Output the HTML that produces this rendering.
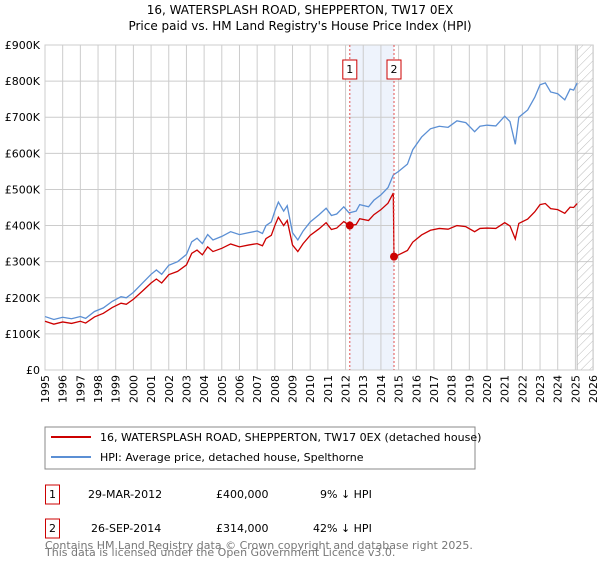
<!DOCTYPE html>
<html><head><meta charset="utf-8"><style>
body{margin:0;background:#fff;font-family:"DejaVu Sans","Liberation Sans",sans-serif;}
svg text{font-family:"DejaVu Sans","Liberation Sans",sans-serif;}
</style></head><body>
<svg id="c" width="600" height="560">
<defs><pattern id="hatch" width="6" height="6" patternUnits="userSpaceOnUse" patternTransform="rotate(45)"><line x1="0" y1="0" x2="0" y2="6" stroke="#bbb" stroke-width="1"/></pattern></defs>
<text x="300" y="14" text-anchor="middle" font-size="12">16, WATERSPLASH ROAD, SHEPPERTON, TW17 0EX</text>
<text x="300" y="30" text-anchor="middle" font-size="12">Price paid vs. HM Land Registry's House Price Index (HPI)</text>
<g id="grid"></g><g id="marks"></g><g id="axes"></g>
<rect x="45" y="427" width="430" height="42" fill="#fff" stroke="#888"/>
<line x1="51" y1="437" x2="91" y2="437" stroke="#cc0000" stroke-width="2"/>
<text x="100" y="441" font-size="11">16, WATERSPLASH ROAD, SHEPPERTON, TW17 0EX (detached house)</text>
<line x1="51" y1="457" x2="91" y2="457" stroke="#5b8fd4" stroke-width="2"/>
<text x="100" y="461" font-size="11">HPI: Average price, detached house, Spelthorne</text>
<rect x="45.5" y="485" width="14" height="19" fill="#fff" stroke="#cc0000"/>
<text x="52.5" y="498" font-size="11" text-anchor="middle">1</text>
<text x="88" y="498" font-size="11">29-MAR-2012</text>
<text x="216" y="498" font-size="11">£400,000</text>
<text x="320" y="498" font-size="11">9% ↓ HPI</text>
<rect x="45.5" y="519" width="14" height="19" fill="#fff" stroke="#cc0000"/>
<text x="52.5" y="532" font-size="11" text-anchor="middle">2</text>
<text x="91" y="532" font-size="11">26-SEP-2014</text>
<text x="216" y="532" font-size="11">£314,000</text>
<text x="313" y="532" font-size="11">42% ↓ HPI</text>
<text x="45" y="549" font-size="11" fill="#777">Contains HM Land Registry data © Crown copyright and database right 2025.</text>
<text x="45" y="560" font-size="11" fill="#777" transform="translate(0,-4)">This data is licensed under the Open Government Licence v3.0.</text>
</svg>
<script>
const yTicks=[0,100,200,300,400,500,600,700,800,900];
const years=[1995,1996,1997,1998,1999,2000,2001,2002,2003,2004,2005,2006,2007,2008,2009,2010,2011,2012,2013,2014,2015,2016,2017,2018,2019,2020,2021,2022,2023,2024,2025,2026];
const hpiDates=[1995.0,1995.5,1996.0,1996.5,1997.0,1997.3,1997.8,1998.3,1998.8,1999.3,1999.6,2000.0,2000.5,2001.0,2001.3,2001.6,2002.0,2002.5,2003.0,2003.3,2003.6,2003.9,2004.2,2004.5,2005.0,2005.5,2006.0,2006.5,2007.0,2007.3,2007.5,2007.8,2008.0,2008.2,2008.5,2008.7,2009.0,2009.3,2009.6,2010.0,2010.5,2010.9,2011.2,2011.5,2011.9,2012.2,2012.6,2012.8,2013.3,2013.6,2014.0,2014.4,2014.7,2015.0,2015.5,2015.8,2016.3,2016.8,2017.3,2017.8,2018.3,2018.8,2019.3,2019.6,2020.0,2020.5,2021.0,2021.3,2021.6,2021.8,2022.3,2022.7,2023.0,2023.3,2023.6,2024.0,2024.4,2024.7,2024.9,2025.1];
const hpiValues=[148,140,146,142,148,143,162,172,190,203,200,215,240,265,277,265,290,300,320,355,365,350,375,360,370,383,375,380,385,378,400,410,440,465,440,455,380,360,385,410,430,448,428,432,452,435,440,458,452,470,485,505,540,550,570,610,645,668,675,672,690,685,660,675,678,676,703,688,625,700,720,755,790,795,770,765,748,778,775,795];
const redDates=[1995.0,1995.5,1996.0,1996.5,1997.0,1997.3,1997.8,1998.3,1998.8,1999.3,1999.6,2000.0,2000.5,2001.0,2001.3,2001.6,2002.0,2002.5,2003.0,2003.3,2003.6,2003.9,2004.2,2004.5,2005.0,2005.5,2006.0,2006.5,2007.0,2007.3,2007.5,2007.8,2008.0,2008.2,2008.5,2008.7,2009.0,2009.3,2009.6,2010.0,2010.5,2010.9,2011.2,2011.5,2011.9,2012.24,2012.6,2012.8,2013.3,2013.6,2014.0,2014.4,2014.7,2014.74,2015.0,2015.5,2015.8,2016.3,2016.8,2017.3,2017.8,2018.3,2018.8,2019.3,2019.6,2020.0,2020.5,2021.0,2021.3,2021.6,2021.8,2022.3,2022.7,2023.0,2023.3,2023.6,2024.0,2024.4,2024.7,2024.9,2025.1];
const redValues=[135,127,133,129,135,130,147,157,173,185,182,196,218,241,252,241,264,273,291,323,332,319,341,328,337,349,341,346,350,344,364,373,400,423,400,414,346,328,350,373,391,408,389,393,411,400,403,419,414,430,444,462,490,314,319,331,354,374,387,392,390,400,397,383,392,393,392,408,399,363,406,418,438,458,461,447,444,434,451,450,461];
const saleDates=[2012.24,2014.74];
const saleValues=[400,314];
const saleLabels=["1","2"];
const NS="http://www.w3.org/2000/svg";
const X0=45,PX=17.68,Y0=370,YT=45;
const xs=y=>X0+(y-1995)*PX;
const ys=v=>Y0-(v/900)*(Y0-YT);
const right=xs(2026);
function mk(t,a,p){const e=document.createElementNS(NS,t);for(const k in a)e.setAttribute(k,a[k]);p.appendChild(e);return e;}
const g=document.getElementById('grid'),m=document.getElementById('marks'),ax=document.getElementById('axes');
const sh=mk('rect',{x:xs(saleDates[0]),y:YT,width:xs(saleDates[1])-xs(saleDates[0]),height:Y0-YT,fill:'#eef3fc'},g);


years.forEach(yr=>{const l=mk('line',{x1:xs(yr),x2:xs(yr),y1:YT,y2:Y0,stroke:'#ccc'},g);


const t=mk('text',{x:0,y:0,'font-size':11,'text-anchor':'end',transform:`translate(${xs(yr)+4},${Y0+5}) rotate(-90)`},ax);t.textContent=yr;

});
yTicks.forEach(v=>{const l=mk('line',{x1:X0,x2:right,y1:ys(v),y2:ys(v),stroke:'#ccc'},g);


const t=mk('text',{x:X0-5,y:ys(v)+4,'font-size':11,'text-anchor':'end'},ax);t.textContent=v===0?'£0':'£'+v+'K';

});
const hz=mk('rect',{x:xs(2025.1),y:YT,width:right-xs(2025.1),height:Y0-YT,fill:'url(#hatch)',stroke:'#bbb'},g);


const border=mk('rect',{x:X0,y:YT,width:right-X0,height:Y0-YT,fill:'none',stroke:'#ccc'},g);


const hp=mk('polyline',{points:hpiDates.map((d,i)=>xs(d)+','+ys(hpiValues[i])).join(' '),fill:'none',stroke:'#5b8fd4','stroke-width':1.3},m);


const rp=mk('polyline',{points:redDates.map((d,i)=>xs(d)+','+ys(redValues[i])).join(' '),fill:'none',stroke:'#cc0000','stroke-width':1.3},m);


saleDates.forEach((d,i)=>{
const l=mk('line',{x1:xs(d),x2:xs(d),y1:YT,y2:Y0,stroke:'#e05050','stroke-dasharray':'2,2'},m);


const c=mk('circle',{cx:xs(d),cy:ys(saleValues[i]),r:4,fill:'#cc0000'},m);


const b=mk('rect',{x:xs(d)-7,y:YT+15,width:14,height:19,fill:'#fff',stroke:'#cc0000'},m);


const t=mk('text',{x:xs(d),y:YT+28,'font-size':11,'text-anchor':'middle'},m);t.textContent=saleLabels[i];

});
</script>
</body></html>
